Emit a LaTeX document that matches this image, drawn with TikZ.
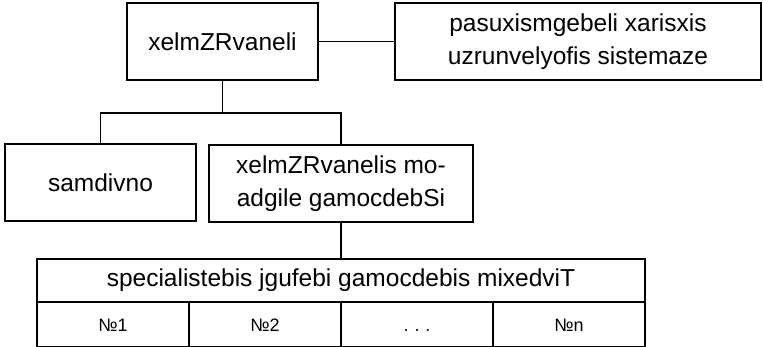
\documentclass[tikz,border=0pt]{standalone}
\usepackage{fontspec}
\setmainfont{Liberation Sans}
\begin{document}
\begin{tikzpicture}[x=1pt,y=-1pt,line width=1.6pt,
  box/.style={shape=rectangle,draw,minimum height=77pt,align=center,inner sep=0pt,
    font=\fontsize{24.5}{33}\selectfont},
  cell/.style={shape=rectangle,draw,minimum width=152pt,minimum height=45pt,inner sep=0pt,
    text height=13pt,text depth=0pt,font=\fontsize{18}{21}\selectfont}]
\useasboundingbox (0,0) rectangle (763,346);
\node(boss) at (222.5,41.5)[box,minimum width=191pt]     {xelmZRvaneli};
\node(quality) at (578,41.5)[box,minimum width=366pt]    {pasuxismgebeli xarisxis\\uzrunvelyofis sistemaze};
\node(advisor) at (100.5,182.5)[box,minimum width=191pt] {samdivno};
\node(deputy) at (341,183.5)[box,minimum width=264pt]    {xelmZRvanelis mo-\\adgile gamocdebSi};
\node(groups) at (341,280.5)[box,minimum width=608pt,minimum height=43pt] {specialistebis jgufebi gamocdebis mixedviT};
\node(g1) at (113,324.5)[cell]   {№1};
\node(g2) at (265,324.5)[cell]   {№2};
\node(gdots) at (417,324.5)[cell] {.\,\,.\,\,.};
\node(gn) at (569,324.5)[cell]   {№n};
\coordinate(fork) at (222.5,113);
\path [-]
  (boss)    edge (quality)
  (boss)    edge (fork)
  (deputy)  edge (groups);
\draw (advisor.north) |- (fork) -| (deputy.north);
\end{tikzpicture}
\end{document}
